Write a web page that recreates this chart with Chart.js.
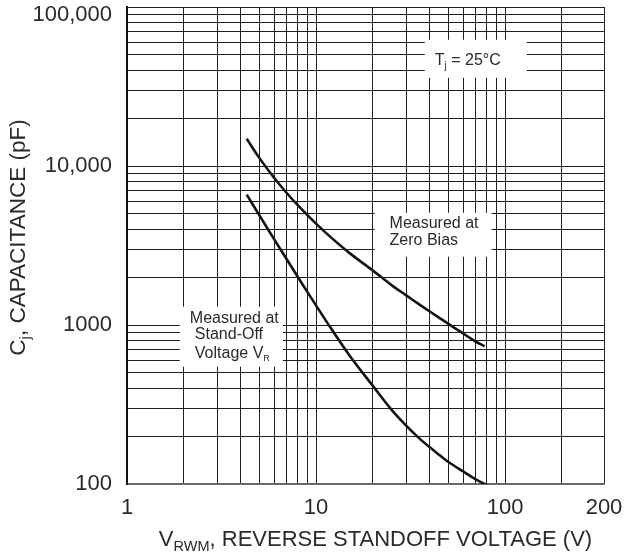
<!DOCTYPE html>
<html><head><meta charset="utf-8">
<script src="https://cdn.jsdelivr.net/npm/chart.js@4.4.0/dist/chart.umd.min.js"></script>
<style>html,body{margin:0;padding:0;background:#fff;}#wrap{width:639px;height:556px;}</style>
</head><body><div id="wrap"><canvas id="c" width="639" height="556"></canvas></div>
<script>
// ---- data ----
const voltageZeroBias = [4.3, 5, 6, 7, 8, 10, 12, 15, 20, 25, 30, 35, 40, 50, 60, 70, 78];
const capZeroBias     = [14850, 11290, 8430, 6765, 5677, 4342, 3556, 2842, 2198, 1789, 1536, 1353, 1216, 1020, 885, 787, 735];
const voltageStandOff = [4.3, 5, 6, 7, 8, 10, 12, 15, 20, 25, 30, 35, 40, 45, 50, 60, 70, 81];
const capStandOff     = [6600, 4930, 3470, 2590, 2010, 1328, 953, 646, 414, 295, 233, 195, 170, 152, 138, 120, 107, 98];

const X_MIN = 1, X_MAX = 334;
const xTickValues = [1,2,3,4,5,6,7,8,9,10,20,30,40,50,60,70,80,90,100,200,334];
const xTickLabels = ['1','','','','','','','','','10','','','','','','','','','100','','200'];
const Y_MIN = 100, Y_MAX = 100000;
const yTickValues = [100,200,300,400,500,600,700,800,900,1000,2000,3000,4000,5000,6000,7000,8000,9000,
  10000,20000,30000,40000,50000,60000,70000,80000,90000,100000];
const yTickLabelMap = {100: '100', 1000: '1000', 10000: '10,000', 100000: ['', '100,000']};

const FONT = '"Liberation Sans", Arial, Helvetica, sans-serif';
const TXT = '#2a2a2a';

// annotation anchors (data coordinates) with text
const notes = [
  {x: 42.5, y: 46600, box: [-10, -20, 92, 18],
   lines: [{dx: 0, dy: 0, parts: [{t: 'T', s: 16}, {t: 'j', s: 10, dy: 4}, {t: ' = 25°C', s: 16}]}]},
  {x: 24.5, y: 4400, box: [-15, -10, 102, 34],
   lines: [{dx: 0, dy: 0, parts: [{t: 'Measured at', s: 16}]},
           {dx: 0, dy: 17, parts: [{t: 'Zero Bias', s: 16}]}]},
  {x: 2.15, y: 1127, box: [-10, -10, 93, 50],
   lines: [{dx: 0, dy: 0, parts: [{t: 'Measured at', s: 16}]},
           {dx: 5, dy: 16.5, parts: [{t: 'Stand-Off', s: 16}]},
           {dx: 5, dy: 35, parts: [{t: 'Voltage V', s: 16}, {t: 'R', s: 9, dy: 3}]}]}
];

function richWidth(ctx, parts) {
  let w = 0;
  for (const p of parts) { ctx.font = p.s + 'px ' + FONT; w += ctx.measureText(p.t).width; }
  return w;
}
function drawRich(ctx, parts, x, yMid, align) {
  const main = parts[0].s;
  const base = yMid + main * 0.36;
  let cx = align === 'center' ? x - richWidth(ctx, parts) / 2 : x;
  ctx.textAlign = 'left'; ctx.textBaseline = 'alphabetic';
  for (const p of parts) {
    ctx.font = p.s + 'px ' + FONT;
    ctx.fillText(p.t, cx, base + (p.dy || 0));
    cx += ctx.measureText(p.t).width;
  }
}

const overlay = {
  id: 'overlay',
  beforeDatasetsDraw(chart) {
    const ctx = chart.ctx, xs = chart.scales.x, ys = chart.scales.y;
    ctx.save();
    for (const n of notes) {
      const px = xs.getPixelForValue(n.x), py = ys.getPixelForValue(n.y);
      ctx.fillStyle = '#fff';
      ctx.fillRect(px + n.box[0], py + n.box[1], n.box[2] - n.box[0], n.box[3] - n.box[1]);
      ctx.fillStyle = TXT;
      for (const l of n.lines) drawRich(ctx, l.parts, px + l.dx, py + l.dy, 'left');
    }
    ctx.restore();
  },
  afterDraw(chart) {
    const ctx = chart.ctx, ca = chart.chartArea;
    ctx.save();
    ctx.fillStyle = TXT;
    // x axis title
    drawRich(ctx, [{t: 'V', s: 22}, {t: 'RWM', s: 14.5, dy: 5}, {t: ', REVERSE STANDOFF VOLTAGE (V)', s: 22}],
      (ca.left + ca.right) / 2 + 10, 538, 'center');
    // y axis title
    ctx.translate(17, (ca.top + ca.bottom) / 2 - 8);
    ctx.rotate(-Math.PI / 2);
    drawRich(ctx, [{t: 'C', s: 22.5}, {t: 'j', s: 15, dy: 5}, {t: ', CAPACITANCE (pF)', s: 22.5}], 0, 0, 'center');
    ctx.restore();
  }
};

const lineStyle = {showLine: true, borderColor: '#141414', borderWidth: 2.6, pointRadius: 0,
  tension: 0.35, fill: false};

new Chart(document.getElementById('c'), {
  type: 'scatter',
  data: {datasets: [
    Object.assign({label: 'Measured at Zero Bias',
      data: voltageZeroBias.map((v, i) => ({x: v, y: capZeroBias[i]}))}, lineStyle),
    Object.assign({label: 'Measured at Stand-Off Voltage VR',
      data: voltageStandOff.map((v, i) => ({x: v, y: capStandOff[i]}))}, lineStyle)
  ]},
  options: {
    responsive: false, animation: false, devicePixelRatio: 1,
    layout: {padding: {top: 7, right: 35, left: 0, bottom: 0}},
    plugins: {legend: {display: false}, tooltip: {enabled: false}},
    scales: {
      x: {
        type: 'logarithmic', position: 'bottom', min: X_MIN, max: X_MAX,
        afterBuildTicks: s => { s.ticks = xTickValues.map(v => ({value: v})); },
        afterFit: s => { s.height = 72; s.paddingLeft = 0; s.paddingRight = 0; },
        ticks: {autoSkip: false, maxRotation: 0, minRotation: 0, padding: 11, color: TXT,
          font: {family: FONT, size: 22}, callback: (v, i) => xTickLabels[i]},
        grid: {color: '#1e1e1e', lineWidth: 1, drawTicks: false},
        border: {display: true, color: '#6a6a6a', width: 2}
      },
      y: {
        type: 'logarithmic', position: 'left', min: Y_MIN, max: Y_MAX,
        afterBuildTicks: s => { s.ticks = yTickValues.map(v => ({value: v})); },
        afterFit: s => { s.width = 127; s.paddingTop = 0; s.paddingBottom = 0; },
        ticks: {autoSkip: false, padding: 15, color: TXT, font: {family: FONT, size: 22, lineHeight: 0.75},
          callback: v => yTickLabelMap[v] || ''},
        grid: {color: '#1e1e1e', lineWidth: 1, drawTicks: false},
        border: {display: true, color: '#111', width: 2}
      }
    }
  },
  plugins: [overlay]
});
</script></body></html>
